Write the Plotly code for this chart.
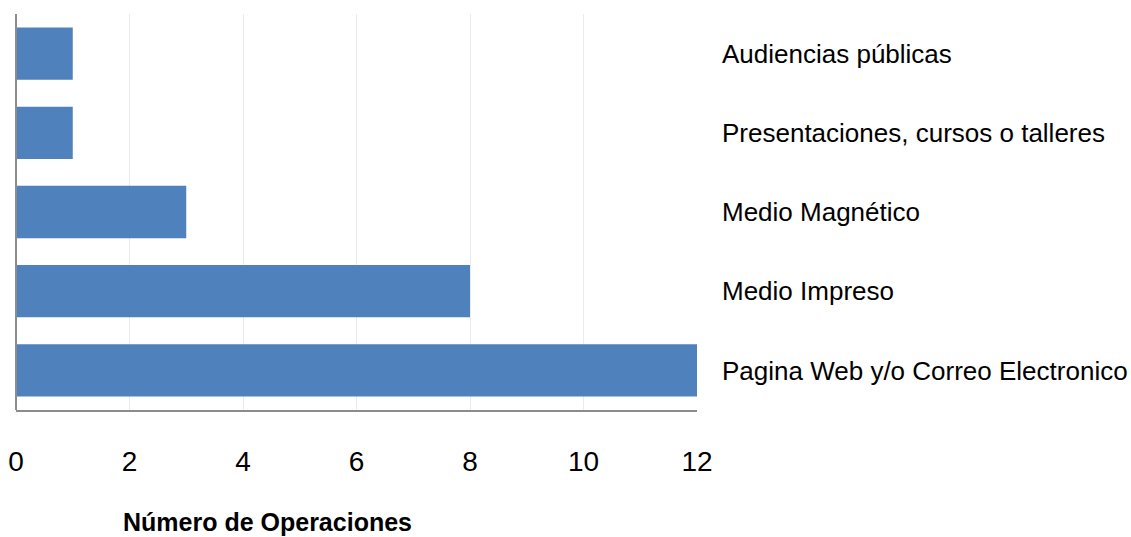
import plotly.graph_objects as go

categories = [
    "Pagina Web y/o Correo Electronico",
    "Medio Impreso",
    "Medio Magnético",
    "Presentaciones, cursos o talleres",
    "Audiencias públicas",
]
values = [12, 8, 3, 1, 1]
tick_vals = [0, 2, 4, 6, 8, 10, 12]
x_title = "Número de Operaciones"

FONT = "Liberation Sans, Arial, sans-serif"

fig = go.Figure(
    go.Bar(
        x=values,
        y=categories,
        orientation="h",
        marker=dict(color="#4F81BD", line=dict(width=0)),
        hoverinfo="x+y",
    )
)

fig.update_layout(
    width=1131,
    height=537,
    margin=dict(l=16, r=434, t=14, b=127),
    paper_bgcolor="white",
    plot_bgcolor="white",
    bargap=0.34,
    showlegend=False,
    font=dict(family=FONT, size=26, color="#000000"),
)

fig.update_xaxes(
    range=[0, 12],
    tickvals=tick_vals,
    showgrid=True,
    gridcolor="#EBEBEB",
    gridwidth=1,
    zeroline=False,
    showline=True,
    linecolor="#8C8C8C",
    linewidth=2,
    ticks="",
    automargin=False,
    ticklabelstandoff=25,
    tickfont=dict(family=FONT, size=28, color="#000000"),
)

fig.update_yaxes(
    side="right",
    showgrid=False,
    zeroline=False,
    showline=False,
    ticks="",
    automargin=False,
    ticklabelstandoff=24,
    tickfont=dict(family=FONT, size=26, color="#000000"),
)

# left axis line
fig.add_shape(
    type="line",
    xref="x domain", yref="y domain",
    x0=0, x1=0, y0=0, y1=1,
    line=dict(color="#8C8C8C", width=2),
)

fig.add_annotation(
    text="<b>" + x_title + "</b>",
    xref="paper", yref="paper",
    x=0.370, y=-0.283,
    xanchor="center", yanchor="middle",
    showarrow=False,
    font=dict(family=FONT, size=25, color="#000000"),
)

fig.write_html(
    "out.html",
    config={"displayModeBar": False},
    post_script="document.body.style.margin='0';document.body.style.overflow='hidden';",
)
